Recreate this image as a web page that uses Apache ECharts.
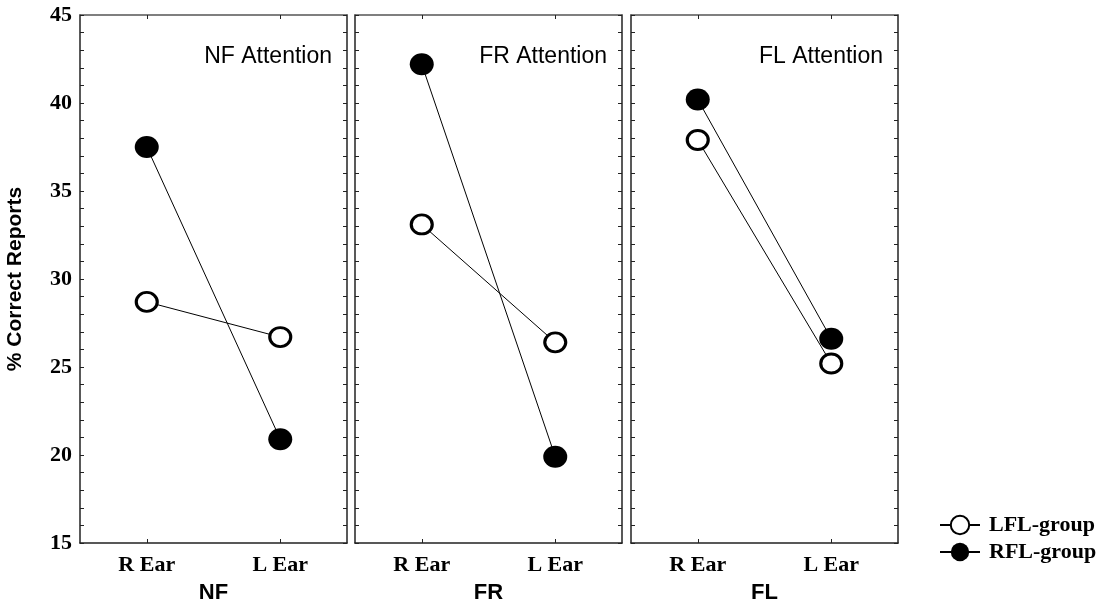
<!DOCTYPE html>
<html>
<head>
<meta charset="utf-8">
<script src="https://cdn.jsdelivr.net/npm/echarts@6/dist/echarts.min.js"></script>
<style>html,body{margin:0;padding:0;background:#fff}#c{width:1108px;height:610px}</style>
</head>
<body>
<div id="c"></div>
<script>
const categories = ['R Ear', 'L Ear'];
const panelNames = ['NF', 'FR', 'FL'];
const panelTitles = ['NF Attention', 'FR Attention', 'FL Attention'];
const seriesNames = ['LFL-group', 'RFL-group'];
const lflValues = [[28.7, 26.7], [33.1, 26.4], [37.9, 25.2]];
const rflValues = [[37.5, 20.9], [42.2, 19.9], [40.2, 26.6]];
const yMin = 15, yMax = 45, yInterval = 5;
const yTitle = '% Correct Reports';

const chart = echarts.init(document.getElementById('c'));
const lefts = [80, 355, 631];
const gw = 267, gtop = 15, gh = 528;
const axisCol = '#222';
const grids = [], xAxes = [], yAxes = [], series = [], graphics = [];

lefts.forEach((l, i) => {
  grids.push({left: l, top: gtop, width: gw, height: gh, containLabel: false});
  const tickCommon = {show: true, inside: true, length: 4, alignWithLabel: true, lineStyle: {color: axisCol, width: 1}};
  xAxes.push({
    type: 'category', gridIndex: i, data: categories, position: 'bottom',
    axisLine: {show: true, lineStyle: {color: axisCol, width: 1.5}},
    axisTick: tickCommon,
    axisLabel: {fontFamily: 'Liberation Serif', fontWeight: 'bold', fontSize: 22, color: '#000', margin: 11},
    name: panelNames[i], nameLocation: 'middle', nameGap: 39,
    nameTextStyle: {fontFamily: 'Liberation Sans', fontWeight: 'bold', fontSize: 22, color: '#000'}
  });
  xAxes.push({
    type: 'category', gridIndex: i, data: categories, position: 'top',
    axisLine: {show: true, lineStyle: {color: '#555', width: 1.5}},
    axisTick: tickCommon, axisLabel: {show: false}
  });
  const yCommon = {
    type: 'value', gridIndex: i, min: yMin, max: yMax, interval: yInterval,
    splitLine: {show: false},
    axisTick: {show: true, inside: true, length: 4, lineStyle: {color: axisCol, width: 1}},
    minorTick: {show: true, splitNumber: 5, length: 4, lineStyle: {color: axisCol, width: 1}}
  };
  const yLeft = Object.assign({}, yCommon, {
    position: 'left',
    axisLine: {show: true, lineStyle: {color: axisCol, width: 1.5}},
    axisLabel: {show: i === 0, fontFamily: 'Liberation Serif', fontWeight: 'bold', fontSize: 22, color: '#000', margin: 8}
  });
  if (i === 0) {
    yLeft.name = yTitle; yLeft.nameLocation = 'middle'; yLeft.nameGap = 54; yLeft.nameRotate = 90;
    yLeft.nameTextStyle = {fontFamily: 'Liberation Sans', fontWeight: 'bold', fontSize: 21, color: '#000'};
  }
  yAxes.push(yLeft);
  yAxes.push(Object.assign({}, yCommon, {
    position: 'right',
    axisLine: {show: true, lineStyle: {color: axisCol, width: 1.5}},
    axisLabel: {show: false}
  }));
  series.push({
    name: seriesNames[0], type: 'line', xAxisIndex: 2 * i, yAxisIndex: 2 * i,
    data: lflValues[i], symbol: 'circle', symbolSize: [21, 19],
    lineStyle: {color: '#000', width: 1},
    itemStyle: {color: '#fff', borderColor: '#000', borderWidth: 3},
    z: 3, animation: false
  });
  series.push({
    name: seriesNames[1], type: 'line', xAxisIndex: 2 * i, yAxisIndex: 2 * i,
    data: rflValues[i], symbol: 'circle', symbolSize: [24, 22],
    lineStyle: {color: '#000', width: 1},
    itemStyle: {color: '#000', borderColor: '#000', borderWidth: 0},
    z: 2, animation: false
  });
  graphics.push({
    type: 'text', x: l + gw - 15, y: 57,
    style: {text: panelTitles[i], fontFamily: 'Liberation Sans', fontSize: 23, fill: '#000', align: 'right', verticalAlign: 'middle'}
  });
});

chart.setOption({
  animation: false,
  grid: grids, xAxis: xAxes, yAxis: yAxes, series: series, graphic: graphics,
  legend: {
    data: seriesNames, orient: 'vertical', left: 934, top: 509,
    itemWidth: 40, itemHeight: 23, itemGap: 5,
    textStyle: {fontFamily: 'Liberation Serif', fontWeight: 'bold', fontSize: 22, color: '#000', padding: [0, 0, 0, 4]},
    selectedMode: false
  }
});
</script>
</body>
</html>
